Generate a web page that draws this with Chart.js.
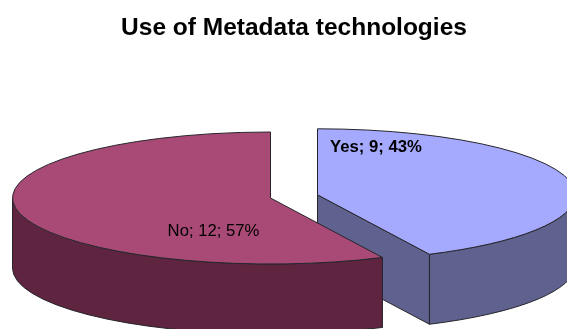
<!DOCTYPE html>
<html>
<head>
<meta charset="utf-8">
<title>Use of Metadata technologies</title>
<script src="https://cdn.jsdelivr.net/npm/chart.js@4/dist/chart.umd.min.js"></script>
<style>
  html, body { margin: 0; padding: 0; background: #fff; overflow: hidden; }
  #wrap { width: 567px; height: 329px; }
</style>
</head>
<body>
<div id="wrap"><canvas id="metaChart" width="567" height="329"></canvas></div>
<script>
// Dữ liệu biểu đồ
const categories = ['Yes', 'No'];
const answerCounts = [9, 12];

// Màu mặt trên / mặt bên của từng miếng
const topColors = ['#A6AAFF', '#A94A76'];
const sideColors = ['#5F618F', '#5F2540'];
const labelWeights = ['bold', 'normal'];

// Hình dạng pie 3D
const radiusX = 258;
const radiusY = 66;
const depth = 70;
const pieY = 196.4;
const explodeX = [23.5, -23.5];
const explodeY = [-1.6, 1.6];
const labelShift = [[58.5, -47], [-57, 33]];

const OUTLINE = '#26262b';

// Thêm cung elip vào path hiện tại (nét viền không bị kéo giãn)
function ellipseArc(ctx, cx, cy, from, to, ccw) {
  ctx.ellipse(cx, cy, radiusX, radiusY, 0, from, to, !!ccw);
}

function outline(ctx, fill) {
  if (fill) {
    ctx.fillStyle = fill;
    ctx.fill();
  }
  ctx.strokeStyle = OUTLINE;
  ctx.lineWidth = 1;
  ctx.stroke();
}

// Vẽ thành ngoài phía trước của một miếng
function drawWall(ctx, cx, cy, start, end, color) {
  const from = Math.max(start, 0);
  const to = Math.min(end, Math.PI);
  if (from >= to) return;
  ctx.beginPath();
  ellipseArc(ctx, cx, cy, from, to);
  ctx.lineTo(cx + radiusX * Math.cos(to), cy + radiusY * Math.sin(to) + depth);
  ellipseArc(ctx, cx, cy + depth, to, from, true);
  ctx.closePath();
  outline(ctx, color);
}

// Vẽ mặt cắt nhìn thấy được của miếng (từ tâm ra mép)
function drawCut(ctx, cx, cy, angle, color) {
  const ex = cx + radiusX * Math.cos(angle);
  const ey = cy + radiusY * Math.sin(angle);
  ctx.beginPath();
  ctx.moveTo(cx, cy);
  ctx.lineTo(ex, ey);
  ctx.lineTo(ex, ey + depth);
  ctx.lineTo(cx, cy + depth);
  ctx.closePath();
  outline(ctx, color);
}

const pie3d = {
  id: 'pie3d',
  beforeDatasetDraw(chart, args) {
    const ctx = chart.ctx;
    const arcs = args.meta.data;
    arcs.forEach((arc, i) => {
      const cx = arc.x + explodeX[i];
      const cy = pieY + explodeY[i];
      const start = arc.startAngle;
      const end = arc.endAngle;

      drawWall(ctx, cx, cy, start, end, sideColors[i]);
      // Mặt cắt chỉ lộ ra khi hướng về phía người xem
      if (i === 0) drawCut(ctx, cx, cy, end, sideColors[i]);

      // Mặt trên: arc của Chart.js được ép thành elip
      ctx.save();
      ctx.translate(cx, cy);
      ctx.scale(radiusX / arc.outerRadius, radiusY / arc.outerRadius);
      ctx.translate(-arc.x, -arc.y);
      arc.draw(ctx);
      ctx.restore();

      ctx.beginPath();
      ctx.moveTo(cx, cy);
      ellipseArc(ctx, cx, cy, start, end);
      ctx.closePath();
      outline(ctx);
    });
    return false;
  },
  afterDatasetsDraw(chart) {
    const ctx = chart.ctx;
    const arcs = chart.getDatasetMeta(0).data;
    const total = answerCounts.reduce((a, b) => a + b, 0);
    ctx.save();
    ctx.textAlign = 'center';
    ctx.textBaseline = 'middle';
    ctx.fillStyle = '#000';
    arcs.forEach((arc, i) => {
      const pct = Math.round(answerCounts[i] / total * 100);
      const x = arc.x + explodeX[i] + labelShift[i][0];
      const y = pieY + explodeY[i] + labelShift[i][1];
      ctx.font = labelWeights[i] + ' 16.7px "Liberation Sans", Arial, sans-serif';
      ctx.fillText(categories[i] + '; ' + answerCounts[i] + '; ' + pct + '%', x, y);
    });
    ctx.restore();
  }
};

new Chart(document.getElementById('metaChart').getContext('2d'), {
  type: 'pie',
  data: {
    labels: categories,
    datasets: [{
      data: answerCounts,
      backgroundColor: topColors,
      borderWidth: 0
    }]
  },
  plugins: [pie3d],
  options: {
    responsive: false,
    animation: false,
    events: [],
    layout: { padding: { left: 21 } },
    plugins: {
      legend: { display: false },
      tooltip: { enabled: false },
      title: {
        display: true,
        text: 'Use of Metadata technologies',
        color: '#000',
        font: { family: '"Liberation Sans", Arial, sans-serif', size: 24.5, weight: 'bold' },
        padding: { top: 14, bottom: 10 }
      }
    }
  }
});
</script>
</body>
</html>
